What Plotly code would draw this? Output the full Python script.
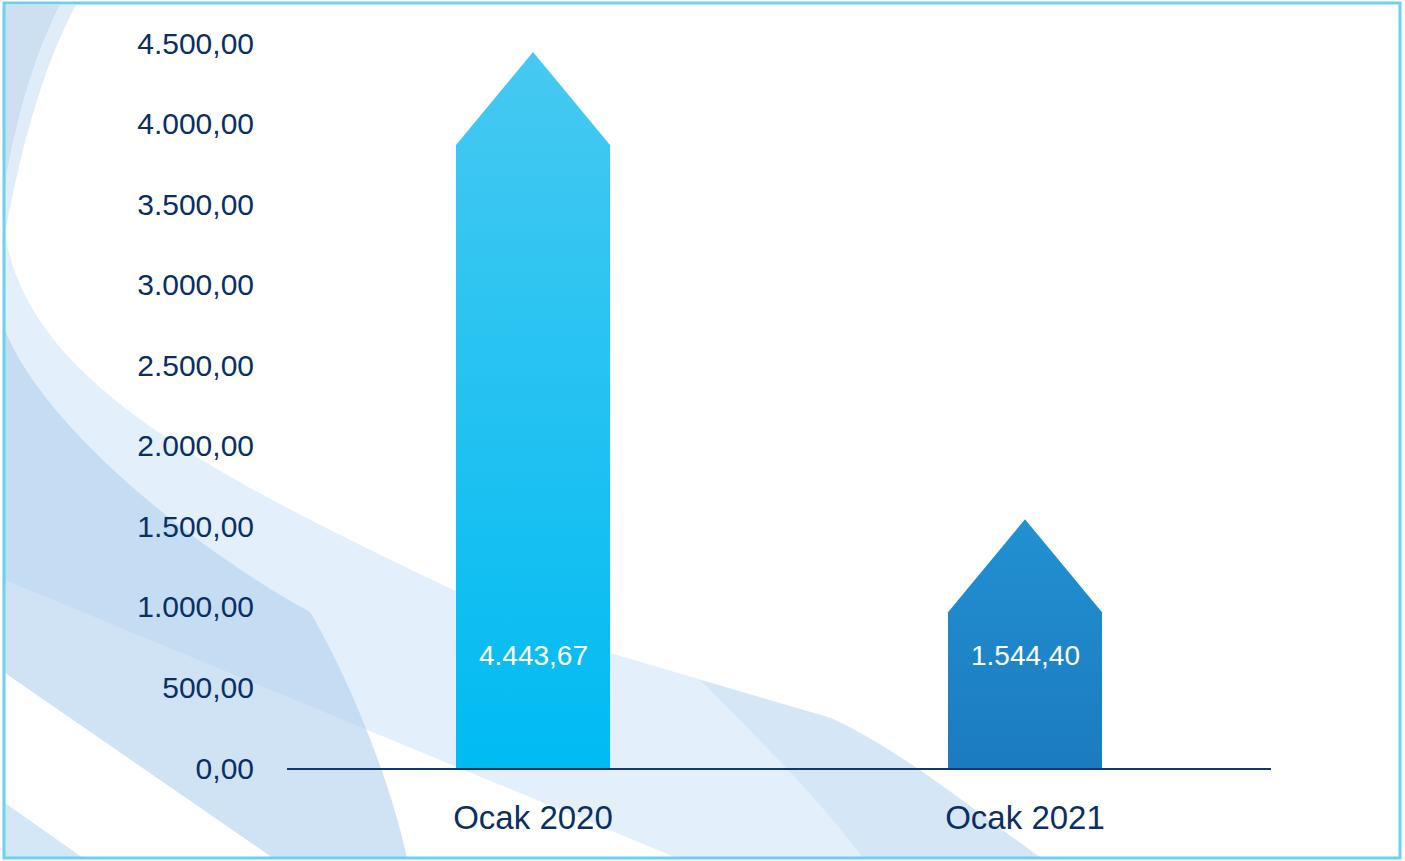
import plotly.graph_objects as go

# ---- data ----
categories = ["Ocak 2020", "Ocak 2021"]
values = [4443.67, 1544.40]
y_ticks = [0, 500, 1000, 1500, 2000, 2500, 3000, 3500, 4000, 4500]

# ---- style ----
W, H = 1405, 861
PL, PR, PT, PB = 287, 1271, 43, 768   # plot area in pixels
NAVY = "#0B2F63"
BAR_W = 0.313
HEAD = 577  # arrow head height in axis units
TOPS = ["#46C9F1", "#2191D1"]
BOTTOMS = ["#00BBF2", "#1C7BC0"]
LABEL_Y = 700


def px(x, y):
    return (x - PL) / (PR - PL), (PB - y) / (PB - PT)


def path(cmds):
    out = []
    for c in cmds:
        if isinstance(c, str):
            out.append(c)
        else:
            a, b = px(*c)
            out.append(f"{a:.4f},{b:.4f}")
    return " ".join(out)


def tr(v):
    return f"{v:,.2f}".replace(",", "X").replace(".", ",").replace("X", ".")


fig = go.Figure()

for i, (cat, v) in enumerate(zip(categories, values)):
    xs = [i - BAR_W / 2, i - BAR_W / 2, i, i + BAR_W / 2, i + BAR_W / 2, i - BAR_W / 2]
    ys = [0, v - HEAD, v, v - HEAD, 0, 0]
    fig.add_trace(go.Scatter(
        x=xs, y=ys, mode="lines", fill="toself",
        line=dict(width=0, color=TOPS[i]),
        fillgradient=dict(type="vertical",
                          colorscale=[[0, BOTTOMS[i]], [1, TOPS[i]]]),
        hoverinfo="skip", showlegend=False,
    ))
    fig.add_annotation(x=i, y=LABEL_Y, text=tr(v), showarrow=False,
                       font=dict(color="white", size=28, family="Liberation Sans"))

# ---- decorative background ----
shapes = []
def add(p, color):
    shapes.append(dict(type="path", xref="paper", yref="paper", path=p,
                       fillcolor=color, line=dict(width=0), layer="below"))

# big light band
add(path(["M", (5, 235), "C", (30, 380), (200, 470), (460, 593), "L", (610, 653), "L", (831, 718),
          "C", (900, 750), (960, 800), (1041, 858), "L", (677, 858), "L", (5, 580), "Z"]),
    "rgba(208,229,246,0.6)")
# sub band
add(path(["M", (700, 680), "C", (760, 740), (820, 800), (863, 858), "L", (1041, 858),
          "C", (960, 800), (900, 750), (831, 718), "Z"]), "rgba(185,215,240,0.35)")
# darker swoosh
add(path(["M", (5, 330), "C", (40, 420), (180, 540), (310, 612), "C", (350, 680), (390, 780), (407, 858),
          "L", (273, 858), "L", (5, 673), "Z"]), "rgba(175,208,238,0.6)")
# bottom-left corner
add(path(["M", (5, 803), "L", (83, 858), "L", (5, 858), "Z"]), "rgba(200,225,245,0.8)")
# top-left crescent
add(path(["M", (5, 5), "L", (60, 5), "C", (32, 60), (14, 130), (5, 185), "Z"]), "rgba(195,218,240,0.85)")
add(path(["M", (60, 5), "L", (76, 5), "C", (46, 60), (22, 140), (5, 235), "L", (5, 185),
          "C", (14, 130), (32, 60), (60, 5), "Z"]), "rgba(218,234,248,0.85)")

# frame
x0, y0 = px(4, 3)
x1, y1 = px(1400, 858)
shapes.append(dict(type="rect", xref="paper", yref="paper", x0=x0, y0=y1, x1=x1, y1=y0,
                   line=dict(color="#6DD0F0", width=3), fillcolor="rgba(0,0,0,0)", layer="above"))

fig.update_layout(
    width=W, height=H,
    margin=dict(l=PL, r=W - PR, t=PT, b=H - PB, pad=0),
    paper_bgcolor="white", plot_bgcolor="rgba(0,0,0,0)",
    separators=",.",
    shapes=shapes,
    showlegend=False,
    font=dict(family="Liberation Sans", color=NAVY),
    xaxis=dict(range=[-0.5, 1.5], tickvals=list(range(len(categories))), ticktext=categories,
               showgrid=False, zeroline=False, showline=True, linecolor="#13386B", linewidth=2,
               ticks="", tickfont=dict(size=33, color=NAVY), ticklabelstandoff=19,
               fixedrange=True),
    yaxis=dict(range=[0, 4500], tickvals=y_ticks, tickformat=",.2f",
               showgrid=False, zeroline=False, showline=False, ticks="",
               tickfont=dict(size=30, color=NAVY), ticklabelstandoff=32, fixedrange=True),
)

fig.write_html("out.html", config={"displayModeBar": False},
               post_script="document.body.style.margin='0';document.body.style.overflow='hidden';")
